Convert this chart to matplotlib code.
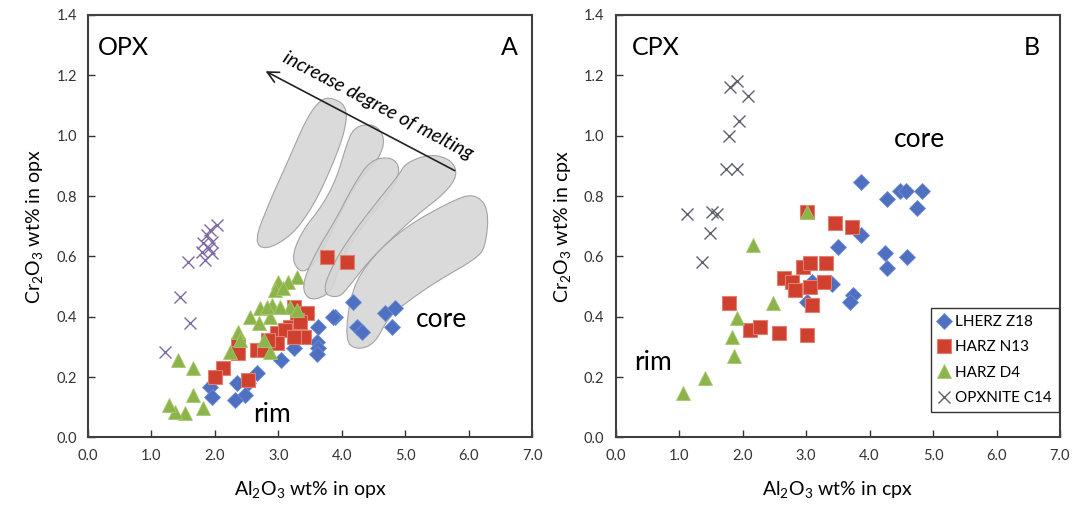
import numpy as np
import matplotlib
matplotlib.use("Agg")
import matplotlib.pyplot as plt
from matplotlib.patches import Polygon

plt.rcParams['font.family'] = ['Lato', 'DejaVu Sans']
plt.rcParams['mathtext.fontset'] = 'custom'
plt.rcParams['mathtext.rm'] = 'Lato'
plt.rcParams['mathtext.it'] = 'Lato:italic'

# ---- data: panel A (opx) ----
opx_lherz_x = [4.18, 3.90, 3.63, 3.61, 3.63, 3.61, 4.24, 4.32, 4.68, 4.84, 4.79, 3.24, 3.05,
               2.66, 2.53, 2.48, 2.35, 2.32, 1.92, 1.95, 3.87]
opx_lherz_y = [0.450, 0.398, 0.367, 0.317, 0.296, 0.277, 0.367, 0.351, 0.414, 0.428, 0.367, 0.296, 0.257,
               0.213, 0.180, 0.141, 0.180, 0.124, 0.168, 0.135, 0.400]

opx_harz_n13_x = [3.76, 4.08, 3.24, 3.45, 3.29, 3.19, 3.40, 2.98, 3.11, 2.98, 3.24, 2.66, 2.77,
                  2.37, 2.37, 2.13, 2.00, 2.53, 3.34, 2.84]
opx_harz_n13_y = [0.599, 0.583, 0.433, 0.411, 0.389, 0.367, 0.334, 0.345, 0.356, 0.312, 0.334, 0.290, 0.290,
                  0.306, 0.279, 0.229, 0.201, 0.191, 0.384, 0.323]

opx_harz_d4_x = [3.29, 3.16, 3.00, 2.95, 3.19, 3.29, 2.90, 2.71, 2.56, 2.87, 2.69, 2.37, 2.40,
                 2.24, 2.87, 2.77, 1.42, 1.66, 1.66, 1.82, 1.53, 1.37, 1.27, 3.08, 2.82, 3.03]
opx_harz_d4_y = [0.533, 0.516, 0.516, 0.489, 0.433, 0.422, 0.439, 0.428, 0.400, 0.400, 0.378, 0.351, 0.323,
                 0.284, 0.284, 0.323, 0.257, 0.229, 0.141, 0.097, 0.080, 0.086, 0.108, 0.494, 0.433, 0.433]

opx_opxnite_x = [1.58, 1.45, 1.61, 1.21, 2.03, 1.92, 1.87, 1.95, 1.82, 1.90, 1.79, 1.85, 1.95]
opx_opxnite_y = [0.583, 0.467, 0.378, 0.284, 0.704, 0.688, 0.671, 0.649, 0.643, 0.627, 0.616, 0.588, 0.610]

# grey fields (outlines in data units)
field1_x = [3.80, 4.08, 4.06, 3.85, 3.56, 3.22, 2.80, 2.62, 2.84, 3.16, 3.43, 3.62]
field1_y = [1.13, 1.10, 1.02, 0.90, 0.77, 0.67, 0.62, 0.65, 0.77, 0.92, 1.05, 1.11]
field2_x = [4.19, 4.52, 4.69, 4.58, 4.26, 4.04, 3.84, 3.62, 3.38, 3.20, 3.36, 3.70, 3.92, 4.06]
field2_y = [1.03, 1.04, 0.99, 0.92, 0.85, 0.77, 0.68, 0.59, 0.54, 0.59, 0.68, 0.77, 0.86, 0.96]
field3_x = [4.45, 4.79, 4.93, 4.80, 4.48, 4.15, 3.95, 3.84, 3.50, 3.36, 3.58, 3.90, 4.17]
field3_y = [0.92, 0.93, 0.89, 0.82, 0.74, 0.65, 0.56, 0.48, 0.45, 0.50, 0.61, 0.72, 0.83]
field4_x = [5.01, 5.40, 5.73, 5.83, 5.63, 5.20, 4.79, 4.41, 4.15, 3.95, 3.68, 3.90, 4.22, 4.59, 4.90]
field4_y = [0.91, 0.94, 0.92, 0.87, 0.81, 0.74, 0.66, 0.58, 0.51, 0.46, 0.48, 0.59, 0.69, 0.79, 0.87]
field5_x = [4.05, 4.15, 4.48, 5.02, 5.70, 6.08, 6.32, 6.27, 6.10, 5.52, 5.10, 4.74, 4.52, 4.24]
field5_y = [0.32, 0.49, 0.60, 0.70, 0.78, 0.81, 0.76, 0.63, 0.59, 0.52, 0.46, 0.40, 0.31, 0.29]

# ---- data: panel B (cpx) ----
cpx_lherz_x = [3.86, 4.27, 4.48, 4.57, 4.83, 4.75, 3.86, 3.51, 4.25, 4.59, 4.28, 3.41, 3.74, 3.69, 3.02, 3.09]
cpx_lherz_y = [0.848, 0.790, 0.818, 0.818, 0.818, 0.759, 0.671, 0.630, 0.610, 0.599, 0.561, 0.509, 0.472, 0.450, 0.450, 0.516]

cpx_harz_n13_x = [3.02, 3.46, 3.73, 2.96, 3.07, 3.32, 2.65, 2.78, 2.83, 3.07, 3.28, 3.09, 1.78, 2.12, 2.28, 2.57, 3.02]
cpx_harz_n13_y = [0.748, 0.710, 0.699, 0.566, 0.577, 0.579, 0.527, 0.516, 0.489, 0.500, 0.516, 0.439, 0.447, 0.356, 0.367, 0.347, 0.340]

cpx_harz_d4_x = [3.02, 2.17, 2.48, 1.91, 1.83, 1.86, 1.41, 1.06]
cpx_harz_d4_y = [0.748, 0.638, 0.445, 0.395, 0.334, 0.270, 0.196, 0.146]

cpx_opxnite_x = [1.92, 1.81, 2.08, 1.95, 1.79, 1.74, 1.92, 1.12, 1.52, 1.60, 1.49, 1.36]
cpx_opxnite_y = [1.182, 1.160, 1.132, 1.050, 0.999, 0.889, 0.889, 0.741, 0.748, 0.741, 0.679, 0.581]

labels = ['LHERZ Z18', 'HARZ N13', 'HARZ D4', 'OPXNITE C14']


def smooth(x, y, n=2):
    # chaikin corner cutting on a closed outline
    p = np.column_stack([x, y])
    for _ in range(n):
        q = np.roll(p, -1, axis=0)
        p = np.column_stack([0.75 * p + 0.25 * q, 0.25 * p + 0.75 * q]).reshape(-1, 2)
    return p


blue, red, green = '#4F6FC0', '#D0402F', '#8DB44A'

fig = plt.figure(figsize=(10.72, 5.13), dpi=100)
axA = fig.add_axes([0.0821, 0.1472, 0.4142, 0.8236])
axB = fig.add_axes([0.5742, 0.1472, 0.4146, 0.8236])


def series(ax, xs, ys, xcol):
    h = []
    h += ax.plot(xs[0], ys[0], ls='none', marker='D', ms=8, color=blue, mec='#6f8fd8', mew=0.6, zorder=3)
    h += ax.plot(xs[1], ys[1], ls='none', marker='s', ms=10, color=red, mec='#e08070', mew=0.8, zorder=4)
    h += ax.plot(xs[2], ys[2], ls='none', marker='^', ms=10, color=green, mec='#a8c870', mew=0.6, zorder=5)
    h += ax.plot(xs[3], ys[3], ls='none', marker='x', ms=9, color=xcol, mew=1.0, zorder=6)
    return h


for fx, fy in [(field1_x, field1_y), (field2_x, field2_y), (field3_x, field3_y),
               (field4_x, field4_y), (field5_x, field5_y)]:
    axA.add_patch(Polygon(smooth(fx, fy), closed=True, fc='#d6d6d6', ec='#9c9c9c', lw=0.8, alpha=0.9, zorder=1))

series(axA, [opx_lherz_x, opx_harz_n13_x, opx_harz_d4_x, opx_opxnite_x],
       [opx_lherz_y, opx_harz_n13_y, opx_harz_d4_y, opx_opxnite_y], '#7F68A8')
hB = series(axB, [cpx_lherz_x, cpx_harz_n13_x, cpx_harz_d4_x, cpx_opxnite_x],
            [cpx_lherz_y, cpx_harz_n13_y, cpx_harz_d4_y, cpx_opxnite_y], '#5f5f6f')

for ax, mineral in [(axA, 'opx'), (axB, 'cpx')]:
    ax.set_xlim(0, 7)
    ax.set_ylim(0, 1.4)
    ax.set_xticks(np.arange(0, 7.01, 1.0))
    ax.set_yticks(np.arange(0, 1.41, 0.2))
    ax.set_xticklabels(['%.1f' % v for v in np.arange(0, 7.01, 1.0)])
    ax.set_yticklabels(['%.1f' % v for v in np.arange(0, 1.41, 0.2)])
    ax.tick_params(direction='in', length=5, width=1, labelsize=10.5, colors='#333333', pad=8)
    for s in ax.spines.values():
        s.set_color('#404040')
        s.set_linewidth(1.5)
    ax.set_xlabel(r'Al$_\mathregular{2}$O$_\mathregular{3}$ wt% in ' + mineral, fontsize=14, labelpad=12)
    ax.set_ylabel(r'Cr$_\mathregular{2}$O$_\mathregular{3}$ wt% in ' + mineral, fontsize=14, labelpad=8)

axA.text(0.022, 0.924, 'OPX', transform=axA.transAxes, fontsize=18, ha='left', va='center')
axA.text(0.968, 0.924, 'A', transform=axA.transAxes, fontsize=18, ha='right', va='center')
axB.text(0.037, 0.924, 'CPX', transform=axB.transAxes, fontsize=18, ha='left', va='center')
axB.text(0.955, 0.924, 'B', transform=axB.transAxes, fontsize=18, ha='right', va='center')

axA.text(5.58, 0.39, 'core', fontsize=19, ha='center', va='center', zorder=7)
axA.text(2.90, 0.075, 'rim', fontsize=19, ha='center', va='center', zorder=7)
axB.text(4.79, 0.986, 'core', fontsize=19, ha='center', va='center')
axB.text(0.59, 0.247, 'rim', fontsize=19, ha='center', va='center')

axA.annotate('', xy=(2.76, 1.218), xytext=(5.82, 0.88),
             arrowprops=dict(arrowstyle='->', color='#222222', lw=1.2, mutation_scale=20))
axA.text(4.57, 1.10, 'increase degree of melting', fontsize=14, style='italic',
         rotation=-27.7, rotation_mode='anchor', ha='center', va='center')

leg = axB.legend(hB, labels, loc='lower right', bbox_to_anchor=(0.997, 0.06), fontsize=11,
                 frameon=True, fancybox=False, edgecolor='#333333', framealpha=1,
                 handlelength=0.9, handletextpad=0.25, borderpad=0.45, labelspacing=0.75,
                 borderaxespad=0)
leg.get_frame().set_linewidth(1.0)

fig.savefig('out.png', dpi=100)
